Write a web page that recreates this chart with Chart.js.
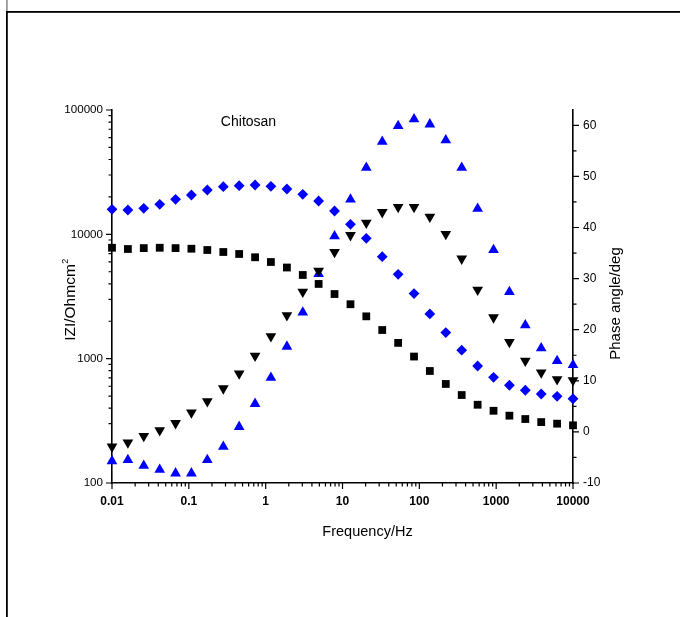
<!DOCTYPE html>
<html>
<head>
<meta charset="utf-8">
<script src="https://cdn.jsdelivr.net/npm/chart.js@4.4.1/dist/chart.umd.min.js"></script>
<style>
html,body{margin:0;padding:0;background:#fff;}
canvas{display:block;}
</style>
</head>
<body>
<canvas id="c" width="680" height="617"></canvas>
<script>
// ---- data ----
const frequencyHz = [0.01, 0.0161, 0.0259, 0.0418, 0.0672, 0.108, 0.174, 0.281, 0.452, 0.728,
  1.17, 1.89, 3.04, 4.89, 7.88, 12.7, 20.4, 32.9, 53.0, 85.3,
  137, 221, 356, 574, 924, 1487, 2395, 3857, 6211, 10000];
// |Z| (Ohm cm^2), black squares
const impedanceBlackSquares = [7800, 7620, 7750, 7800, 7750, 7660, 7480, 7210, 6950, 6540,
  5990, 5410, 4710, 3990, 3310, 2740, 2190, 1700, 1340, 1040,
  796, 626, 510, 426, 381, 348, 327, 309, 300, 291];
// |Z| (Ohm cm^2), blue diamonds
const impedanceBlueDiamonds = [15900, 15700, 16200, 17440, 19130, 20720, 22730, 24160, 24610, 24940,
  24340, 23150, 20990, 18540, 15400, 12040, 9290, 6610, 4770, 3340,
  2290, 1620, 1170, 873, 708, 611, 557, 520, 498, 476];
// phase angle (deg), black down-triangles
const phaseBlackTriangles = [-2.9, -2.1, -0.8, 0.3, 1.7, 3.8, 6.0, 8.5, 11.4, 14.9,
  18.7, 22.8, 27.4, 31.5, 35.2, 38.5, 40.9, 43.0, 44.0, 44.0,
  42.1, 38.7, 33.9, 27.8, 22.4, 17.6, 13.9, 11.6, 10.3, 10.1];
// phase angle (deg), blue up-triangles
const phaseBlueTriangles = [-5.7, -5.5, -6.6, -7.4, -8.1, -8.1, -5.5, -2.9, 1.0, 5.5,
  10.6, 16.7, 23.4, 30.9, 38.3, 45.5, 51.7, 56.8, 59.9, 61.2,
  60.2, 57.1, 51.7, 43.7, 35.6, 27.4, 20.9, 16.4, 13.9, 13.1];

const freqTickValues = [0.01, 0.1, 1, 10, 100, 1000, 10000];
const freqTickLabels = ['0.01', '0.1', '1', '10', '100', '1000', '10000'];
const impedanceTickValues = [100, 1000, 10000, 100000];
const impedanceTickLabels = ['100', '1000', '10000', '100000'];
const phaseTickValues = [-10, 0, 10, 20, 30, 40, 50, 60];
const phaseTickLabels = ['-10', '0', '10', '20', '30', '40', '50', '60'];
const phaseMinorTickValues = [-5, 5, 15, 25, 35, 45, 55];

const xTitle = 'Frequency/Hz';
const yTitleMain = 'IZI/Ohmcm';
const yTitleSup = '2';
const y1Title = 'Phase angle/deg';
const annotationText = 'Chitosan';

const FONT = "'Liberation Sans', Arial, Helvetica, sans-serif";

function pts(ys) { return frequencyHz.map((f, i) => ({x: f, y: ys[i]})); }

const decor = {
  id: 'decor',
  beforeDraw(chart) {
    const ctx = chart.ctx;
    ctx.save();
    ctx.fillStyle = '#fff';
    ctx.fillRect(0, 0, chart.width, chart.height);
    ctx.fillStyle = '#9a9a9a';
    ctx.fillRect(6, 0, 1.8, 11);
    ctx.fillStyle = '#000';
    ctx.fillRect(6, 11, chart.width - 6, 1.8);
    ctx.fillRect(6, 11, 1.8, chart.height - 11);
    ctx.restore();
  },
  afterDraw(chart) {
    const ctx = chart.ctx;
    const {x, y, y1} = chart.scales;
    const a = chart.chartArea;
    ctx.save();
    ctx.strokeStyle = '#000';
    ctx.lineWidth = 1.2;
    ctx.beginPath();
    freqTickValues.forEach((d, i) => {
      let p = x.getPixelForValue(d);
      ctx.moveTo(p, a.bottom); ctx.lineTo(p, a.bottom + 6);
      if (i < freqTickValues.length - 1) {
        for (let k = 2; k <= 9; k++) {
          p = x.getPixelForValue(d * k);
          ctx.moveTo(p, a.bottom); ctx.lineTo(p, a.bottom + 3.5);
        }
      }
    });
    impedanceTickValues.forEach((d, i) => {
      let p = y.getPixelForValue(d);
      ctx.moveTo(a.left, p); ctx.lineTo(a.left - 6, p);
      if (i < impedanceTickValues.length - 1) {
        for (let k = 2; k <= 9; k++) {
          p = y.getPixelForValue(d * k);
          ctx.moveTo(a.left, p); ctx.lineTo(a.left - 3.5, p);
        }
      }
    });
    phaseTickValues.forEach(d => {
      const p = y1.getPixelForValue(d);
      ctx.moveTo(a.right, p); ctx.lineTo(a.right + 6, p);
    });
    phaseMinorTickValues.forEach(d => {
      const p = y1.getPixelForValue(d);
      ctx.moveTo(a.right, p); ctx.lineTo(a.right + 3.5, p);
    });
    ctx.stroke();

    ctx.fillStyle = '#000';
    // x title
    ctx.font = '14.5px ' + FONT;
    ctx.textAlign = 'center';
    ctx.textBaseline = 'alphabetic';
    ctx.fillText(xTitle, (a.left + a.right) / 2 + 25, 535.5);
    // annotation
    ctx.font = '14px ' + FONT;
    ctx.fillText(annotationText, 248.5, 125.5);
    // right title
    ctx.save();
    ctx.translate(620, 303.5);
    ctx.rotate(-Math.PI / 2);
    ctx.font = '15px ' + FONT;
    ctx.textAlign = 'center';
    ctx.fillText(y1Title, 0, 0);
    ctx.restore();
    // left title with superscript
    ctx.save();
    ctx.translate(74.5, 300);
    ctx.rotate(-Math.PI / 2);
    ctx.font = '15.5px ' + FONT;
    const w1 = ctx.measureText(yTitleMain).width;
    ctx.font = '9px ' + FONT;
    const w2 = ctx.measureText(yTitleSup).width;
    const start = -(w1 + w2) / 2;
    ctx.textAlign = 'left';
    ctx.font = '15.5px ' + FONT;
    ctx.fillText(yTitleMain, start, 0);
    ctx.font = '9px ' + FONT;
    ctx.fillText(yTitleSup, start + w1 + 0.5, -7);
    ctx.restore();
    ctx.restore();
  }
};

const commonGrid = {display: true, drawOnChartArea: false, drawTicks: true, tickLength: 6, tickColor: 'rgba(0,0,0,0)'};
const border = {display: true, color: '#000', width: 1.6};

new Chart(document.getElementById('c'), {
  type: 'scatter',
  data: {
    datasets: [
      {label: '|Z| squares', data: pts(impedanceBlackSquares), yAxisID: 'y',
       pointStyle: 'rect', pointRadius: 5.5, backgroundColor: '#000', borderColor: '#000', pointBorderWidth: 0, clip: false},
      {label: 'phase down-triangles', data: pts(phaseBlackTriangles), yAxisID: 'y1',
       pointStyle: 'triangle', pointRotation: 180, pointRadius: 6.2, backgroundColor: '#000', borderColor: '#000', pointBorderWidth: 0, clip: false},
      {label: '|Z| diamonds', data: pts(impedanceBlueDiamonds), yAxisID: 'y',
       pointStyle: 'rectRot', pointRadius: 5.4, backgroundColor: '#0000ff', borderColor: '#0000ff', pointBorderWidth: 0, clip: false},
      {label: 'phase up-triangles', data: pts(phaseBlueTriangles), yAxisID: 'y1',
       pointStyle: 'triangle', pointRadius: 6.2, backgroundColor: '#0000ff', borderColor: '#0000ff', pointBorderWidth: 0, clip: false}
    ]
  },
  options: {
    responsive: false,
    devicePixelRatio: 1,
    animation: false,
    events: [],
    layout: {padding: {left: 0, right: 0, top: 110, bottom: 0}},
    plugins: {legend: {display: false}, tooltip: {enabled: false}},
    scales: {
      x: {
        type: 'logarithmic', position: 'bottom', min: 0.01, max: 10000,
        afterBuildTicks: s => { s.ticks = freqTickValues.map(v => ({value: v, major: true})); },
        afterFit: s => { s.height = 134; },
        grid: commonGrid, border: border,
        ticks: {autoSkip: false, maxRotation: 0, minRotation: 0, padding: 5, color: '#000',
          font: {family: FONT, size: 12, weight: 'bold'},
          callback: (v, i) => freqTickLabels[i]}
      },
      y: {
        type: 'logarithmic', position: 'left', min: 100, max: 100000,
        afterBuildTicks: s => { s.ticks = impedanceTickValues.map(v => ({value: v, major: true})); },
        afterFit: s => { s.width = 112; },
        grid: commonGrid, border: border,
        ticks: {autoSkip: false, padding: 3, color: '#000',
          font: {family: FONT, size: 11.6},
          callback: (v, i) => impedanceTickLabels[i]}
      },
      y1: {
        type: 'linear', position: 'right', min: -10, max: 63,
        afterBuildTicks: s => { s.ticks = phaseTickValues.map(v => ({value: v})); },
        afterFit: s => { s.width = 107; },
        grid: commonGrid, border: border,
        ticks: {autoSkip: false, padding: 4, color: '#000',
          font: {family: FONT, size: 12},
          callback: (v, i) => phaseTickLabels[i]}
      }
    }
  },
  plugins: [decor]
});
</script>
</body>
</html>
